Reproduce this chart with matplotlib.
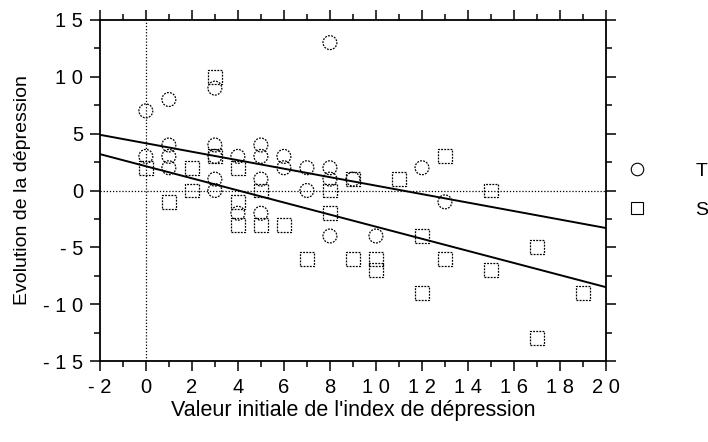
import matplotlib
matplotlib.use('Agg')
import matplotlib.pyplot as plt
from matplotlib.ticker import MultipleLocator, FixedLocator
from matplotlib.lines import Line2D

plt.rcParams['font.family'] = ['Liberation Sans', 'DejaVu Sans']

# groupe T (cercles)
t_x = [0, 1, 0, 1, 1, 1, 3, 3, 3, 3, 3, 4, 4, 5, 5, 5, 5, 6, 6, 7, 7, 8, 8, 8, 8, 9, 10, 12, 13]
t_y = [7, 8, 3, 4, 3, 2, 9, 4, 3, 1, 0, 3, -2, 4, 3, 1, -2, 3, 2, 2, 0, 13, 2, 1, -4, 1, -4, 2, -1]

# groupe S (carres)
s_x = [0, 1, 2, 2, 3, 3, 4, 4, 4, 5, 5, 6, 7, 8, 8, 9, 9, 10, 10, 11, 12, 12, 13, 13, 15, 15, 17, 17, 19]
s_y = [2, -1, 2, 0, 10, 3, 2, -1, -3, 0, -3, -3, -6, 0, -2, 1, -6, -6, -7, 1, -4, -9, 3, -6, 0, -7, -5, -13, -9]

# droites de regression (valeurs aux bords de l'axe)
line_x = [-2, 20]
t_line = [4.9, -3.3]
s_line = [3.2, -8.5]

x_ticks = [-2, 0, 2, 4, 6, 8, 10, 12, 14, 16, 18, 20]
x_labels = ['- 2', '0', '2', '4', '6', '8', '1 0', '1 2', '1 4', '1 6', '1 8', '2 0']
y_ticks = [-15, -10, -5, 0, 5, 10, 15]
y_labels = ['- 1 5', '- 1 0', '- 5', '0', '5', '1 0', '1 5']

fig = plt.figure(figsize=(7.08, 4.42), dpi=100)
ax = fig.add_axes([0.141, 0.183, 0.715, 0.772])

ax.axhline(0, color='black', lw=0.9, ls=(0, (1, 1.5)), zorder=1)
ax.axvline(0, color='black', lw=0.9, ls=(0, (1, 1.5)), zorder=1)

ax.plot(line_x, t_line, color='black', lw=1.4, zorder=3)
ax.plot(line_x, s_line, color='black', lw=1.4, zorder=3)

ax.scatter(t_x, t_y, s=100, marker='o', facecolors='none', edgecolors='black',
           linewidths=0.9, linestyles=(0, (1.5, 1)), zorder=2)
ax.scatter(s_x, s_y, s=100, marker='s', facecolors='none', edgecolors='black',
           linewidths=0.9, linestyles=(0, (1.5, 1)), zorder=2)

ax.set_xlim(-2, 20)
ax.set_ylim(-15, 15)
ax.xaxis.set_major_locator(FixedLocator(x_ticks))
ax.set_xticklabels(x_labels)
ax.yaxis.set_major_locator(FixedLocator(y_ticks))
ax.set_yticklabels(y_labels)
ax.xaxis.set_minor_locator(MultipleLocator(1))
ax.yaxis.set_minor_locator(MultipleLocator(2.5))
ax.tick_params(which='both', direction='out', top=True, right=True, width=1.1, labelsize=14.5)
ax.tick_params(which='major', length=7)
ax.tick_params(which='minor', length=4)
ax.tick_params(axis='x', pad=5)
ax.tick_params(axis='y', pad=5)
for sp in ax.spines.values():
    sp.set_linewidth(1.3)

ax.set_xlabel("Valeur initiale de l'index de dépression", fontsize=15.5, labelpad=2)
ax.set_ylabel("Evolution de la dépression", fontsize=14, labelpad=9)

handles = [Line2D([], [], marker='o', ls='none', mfc='none', mec='black', ms=9, mew=0.8),
           Line2D([], [], marker='s', ls='none', mfc='none', mec='black', ms=9, mew=0.8)]
ax.legend(handles, ['T', 'S'], loc='center left', bbox_to_anchor=(1.0, 0.5), frameon=False,
          fontsize=14, handletextpad=2.0, labelspacing=1.1, borderaxespad=0.2)

fig.savefig('out.png', dpi=100)
